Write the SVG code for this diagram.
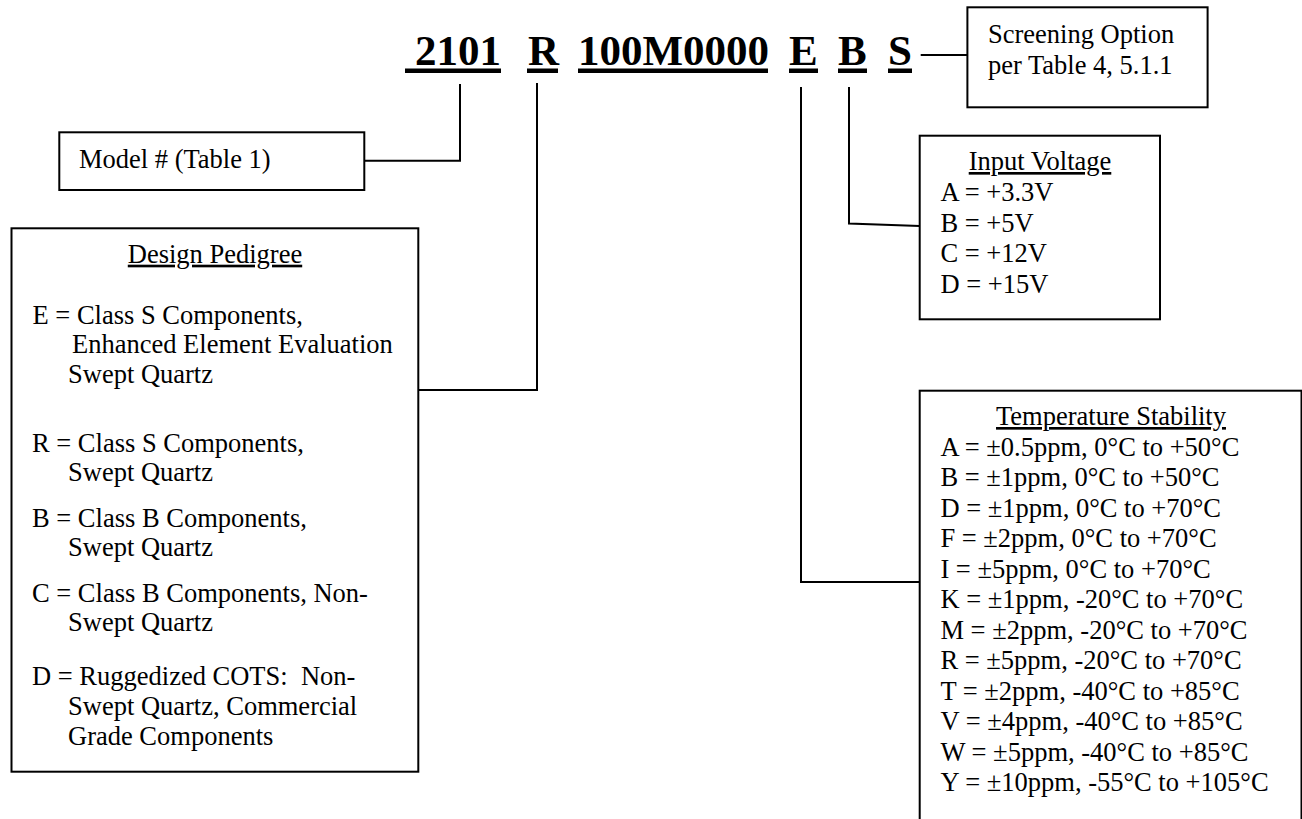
<svg xmlns="http://www.w3.org/2000/svg" width="1302" height="819" viewBox="0 0 1302 819">
<style>
.box{fill:#fff;stroke:#000;stroke-width:2}
.conn{fill:none;stroke:#000;stroke-width:2}
.t{font-family:"Liberation Serif","Times New Roman",serif;font-size:26.5px;fill:#000;white-space:pre}
.h{text-anchor:middle;text-decoration:underline}
.pn{font-family:"Liberation Serif","Times New Roman",serif;font-size:43px;font-weight:bold;fill:#000}
.ul{fill:#000}
</style>
<rect width="1302" height="819" fill="#fff"/>
<g id="part-number">
<text class="pn" x="415" y="65">2101</text>
<rect class="ul" x="405" y="68.5" width="96" height="4.5"/>
<text class="pn" x="528" y="65">R</text>
<rect class="ul" x="527" y="68.5" width="31" height="4.5"/>
<text class="pn" x="578" y="65">100M0000</text>
<rect class="ul" x="578" y="68.5" width="190" height="4.5"/>
<text class="pn" x="789" y="65">E</text>
<rect class="ul" x="789" y="68.5" width="29" height="4.5"/>
<text class="pn" x="838" y="65">B</text>
<rect class="ul" x="838" y="68.5" width="29" height="4.5"/>
<text class="pn" x="888" y="65">S</text>
<rect class="ul" x="888" y="68.5" width="24" height="4.5"/>
</g>
<g id="connectors">
<path class="conn" d="M460,84 V160.7 H364.3"/>
<path class="conn" d="M537,83 V390 H418.3"/>
<path class="conn" d="M801,87 V582 H919.7"/>
<path class="conn" d="M849,87 V223.5 L919.7,226"/>
<path class="conn" d="M920.7,55 H967.4"/>
</g>
<g id="screening">
<rect class="box" x="967.4" y="7.3" width="240.2" height="100"/>
<text class="t" x="988" y="43.3">Screening Option</text>
<text class="t" x="988" y="74">per Table 4, 5.1.1</text>
</g>
<g id="model">
<rect class="box" x="59.3" y="132.3" width="305" height="57.7"/>
<text class="t" x="79" y="168.3">Model # (Table 1)</text>
</g>
<g id="design-pedigree">
<rect class="box" x="11.5" y="228.3" width="406.8" height="543.4"/>
<text class="t h" x="215" y="262.7">Design Pedigree</text>
<text class="t" x="32.5" y="324.3">E = Class S Components,</text>
<text class="t" x="72" y="353.3">Enhanced Element Evaluation</text>
<text class="t" x="68" y="382.7">Swept Quartz</text>
<text class="t" x="32" y="452">R = Class S Components,</text>
<text class="t" x="68" y="481">Swept Quartz</text>
<text class="t" x="32" y="527">B = Class B Components,</text>
<text class="t" x="68" y="556">Swept Quartz</text>
<text class="t" x="32" y="602">C = Class B Components, Non-</text>
<text class="t" x="68" y="631">Swept Quartz</text>
<text class="t" x="32" y="685">D = Ruggedized COTS:  Non-</text>
<text class="t" x="68" y="715">Swept Quartz, Commercial</text>
<text class="t" x="68" y="745">Grade Components</text>
</g>
<g id="input-voltage">
<rect class="box" x="919.7" y="135.7" width="240.3" height="183.6"/>
<text class="t h" x="1040" y="170">Input Voltage</text>
<text class="t" x="940.4" y="201">A = +3.3V</text>
<text class="t" x="940.4" y="231.5">B = +5V</text>
<text class="t" x="940.4" y="262">C = +12V</text>
<text class="t" x="940.4" y="292.5">D = +15V</text>
</g>
<g id="temperature-stability">
<rect class="box" x="919.7" y="390.7" width="381.8" height="450"/>
<text class="t h" x="1111" y="425">Temperature Stability</text>
<text class="t" x="940.4" y="455.5">A = ±0.5ppm, 0°C to +50°C</text>
<text class="t" x="940.4" y="486">B = ±1ppm, 0°C to +50°C</text>
<text class="t" x="940.4" y="516.5">D = ±1ppm, 0°C to +70°C</text>
<text class="t" x="940.4" y="547">F = ±2ppm, 0°C to +70°C</text>
<text class="t" x="940.4" y="577.5">I = ±5ppm, 0°C to +70°C</text>
<text class="t" x="940.4" y="608">K = ±1ppm, -20°C to +70°C</text>
<text class="t" x="940.4" y="638.5">M = ±2ppm, -20°C to +70°C</text>
<text class="t" x="940.4" y="669">R = ±5ppm, -20°C to +70°C</text>
<text class="t" x="940.4" y="699.5">T = ±2ppm, -40°C to +85°C</text>
<text class="t" x="940.4" y="730">V = ±4ppm, -40°C to +85°C</text>
<text class="t" x="940.4" y="760.5">W = ±5ppm, -40°C to +85°C</text>
<text class="t" x="940.4" y="791">Y = ±10ppm, -55°C to +105°C</text>
</g>
</svg>
